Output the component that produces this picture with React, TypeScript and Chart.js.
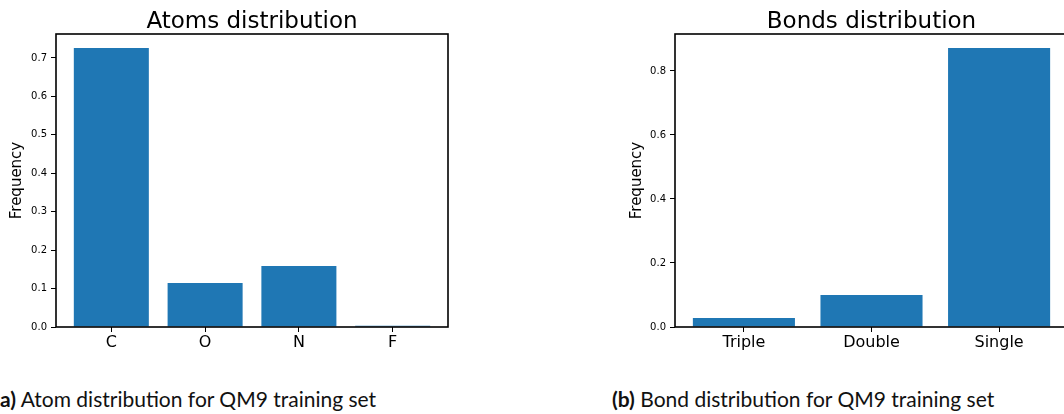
import React, { useEffect, useRef } from "react";
import { Chart, registerables } from "chart.js";

Chart.register(...registerables);

const atomCategories = ["C", "O", "N", "F"];
const atomFrequency = [0.726, 0.1145, 0.159, 0.003];
const atomTicks = [0, 0.1, 0.2, 0.3, 0.4, 0.5, 0.6, 0.7];

const bondCategories = ["Triple", "Double", "Single"];
const bondFrequency = [0.028, 0.1, 0.872];
const bondTicks = [0, 0.2, 0.4, 0.6, 0.8];

const BAR_COLOR = "#1f77b4";
const FONT = "'DejaVu Sans', sans-serif";

type PanelProps = {
  title: string;
  categories: string[];
  values: number[];
  yTicks: number[];
  width: number;
  height: number;
  yAxisWidth: number;
  padRight: number;
  yTitlePad: number;
};

function Panel(props: PanelProps) {
  const ref = useRef<HTMLCanvasElement | null>(null);
  useEffect(() => {
    if (!ref.current) return;
    const { title, categories, values, yTicks } = props;
    const n = categories.length;
    const span = n - 1 + 0.8;
    const xMin = -0.4 - 0.05 * span;
    const xMax = n - 1 + 0.4 + 0.05 * span;
    const yMax = Math.max(...values) * 1.05;

    const framePlugin = {
      id: "frame",
      afterDraw(chart: any) {
        const { ctx, chartArea } = chart;
        ctx.save();
        ctx.strokeStyle = "#000";
        ctx.lineWidth = 1.6;
        ctx.strokeRect(
          chartArea.left,
          chartArea.top,
          chartArea.right - chartArea.left,
          chartArea.bottom - chartArea.top
        );
        ctx.fillStyle = "#000";
        ctx.font = `23px ${FONT}`;
        ctx.textAlign = "center";
        ctx.textBaseline = "alphabetic";
        ctx.fillText(title, (chartArea.left + chartArea.right) / 2, 28);
        ctx.restore();
      },
    };

    const chart = new Chart(ref.current, {
      type: "bar",
      data: {
        datasets: [
          {
            data: categories.map((_, i) => ({ x: i, y: values[i] })),
            backgroundColor: BAR_COLOR,
            borderWidth: 0,
            categoryPercentage: 1,
            barPercentage: 0.8,
          } as any,
        ],
      },
      options: {
        animation: false,
        responsive: false,
        maintainAspectRatio: false,
        layout: {
          padding: { left: 0, right: props.padRight, top: 34, bottom: 3 },
        },
        plugins: {
          legend: { display: false },
          tooltip: { enabled: false },
          title: { display: false },
        },
        scales: {
          x: {
            type: "linear",
            min: xMin,
            max: xMax,
            offset: false,
            grid: {
              offset: false,
              drawOnChartArea: false,
              drawTicks: true,
              tickLength: 5,
              color: "#000",
              lineWidth: 1,
            },
            border: { display: false },
            afterBuildTicks: (scale: any) => {
              scale.ticks = categories.map((_, i) => ({ value: i }));
            },
            afterFit: (scale: any) => {
              scale.height = 30;
            },
            ticks: {
              padding: 1,
              color: "#000",
              font: { family: FONT, size: 16 },
              callback: (v: any) => categories[Math.round(Number(v))] ?? "",
              maxRotation: 0,
              autoSkip: false,
            },
          },
          y: {
            type: "linear",
            min: 0,
            max: yMax,
            grid: {
              drawOnChartArea: false,
              drawTicks: true,
              tickLength: 5,
              color: "#000",
              lineWidth: 1,
            },
            border: { display: false },
            afterBuildTicks: (scale: any) => {
              scale.ticks = yTicks.map((v) => ({ value: v }));
            },
            afterFit: (scale: any) => {
              scale.width = props.yAxisWidth;
            },
            ticks: {
              padding: 4,
              color: "#000",
              font: { family: FONT, size: 10 },
              callback: (v: any) => Number(v).toFixed(1),
            },
            title: {
              display: true,
              text: "Frequency",
              color: "#000",
              font: { family: FONT, size: 15 },
              padding: { top: props.yTitlePad, bottom: 0 },
            },
          },
        },
      } as any,
      plugins: [framePlugin],
    });
    return () => chart.destroy();
  }, []);
  return (
    <canvas
      ref={ref}
      width={props.width}
      height={props.height}
      style={{ width: props.width, height: props.height, display: "block" }}
    />
  );
}

const captionStyle: React.CSSProperties = {
  position: "absolute",
  top: 386,
  fontFamily: "Lato, sans-serif",
  fontSize: 21,
  lineHeight: 1.2,
  color: "#111",
  whiteSpace: "nowrap",
};

export default function App() {
  return (
    <div
      style={{
        position: "fixed",
        left: 0,
        top: 0,
        width: 1064,
        height: 414,
        overflow: "hidden",
        background: "#fff",
      }}
    >
      <div style={{ position: "absolute", left: 0, top: 0 }}>
        <Panel
          title="Atoms distribution"
          categories={atomCategories}
          values={atomFrequency}
          yTicks={atomTicks}
          width={530}
          height={360}
          yAxisWidth={56}
          padRight={82}
          yTitlePad={7.8}
        />
      </div>
      <div style={{ position: "absolute", left: 540, top: 0 }}>
        <Panel
          title="Bonds distribution"
          categories={bondCategories}
          values={bondFrequency}
          yTicks={bondTicks}
          width={540}
          height={360}
          yAxisWidth={135}
          padRight={12}
          yTitlePad={88.5}
        />
      </div>
      <div style={{ ...captionStyle, left: 0 }}>
        <b>a)</b> Atom distribution for QM9 training set
      </div>
      <div style={{ ...captionStyle, left: 612 }}>
        <b>(b)</b> Bond distribution for QM9 training set
      </div>
    </div>
  );
}
